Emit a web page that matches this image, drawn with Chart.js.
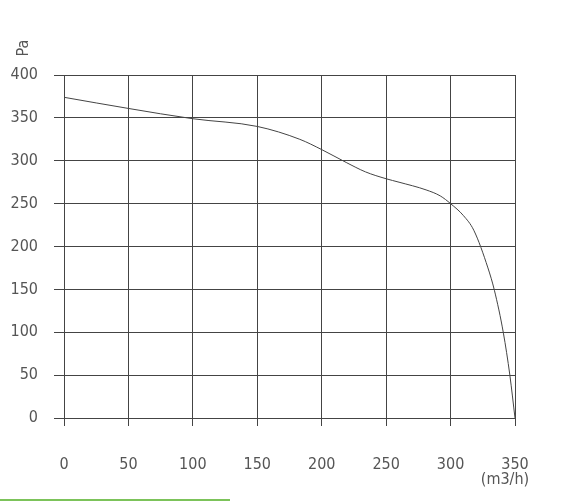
<!DOCTYPE html>
<html>
<head>
<meta charset="utf-8">
<script src="https://cdn.jsdelivr.net/npm/chart.js@4/dist/chart.umd.min.js"></script>
<style>
  html, body { margin: 0; padding: 0; background: #fff; }
  #wrap { position: relative; width: 573px; height: 502px; }
  #greenline { position: absolute; left: 0; top: 499px; width: 230px; height: 2px; background: #7cc35a; }
</style>
</head>
<body>
<div id="wrap">
  <canvas id="c" width="573" height="502"></canvas>
  <div id="greenline"></div>
</div>
<script>
const flowValues     = [0, 50, 100, 150, 183, 200, 219, 234, 250, 260, 281, 292, 300, 310, 318, 329, 334, 341, 346, 350];
const pressureValues = [374, 361, 349, 340, 325, 313, 298, 287, 279, 275, 266, 259, 250, 236, 219, 175, 149, 99, 50, 0];
const xTicks = [0, 50, 100, 150, 200, 250, 300, 350];
const yTicks = [0, 50, 100, 150, 200, 250, 300, 350, 400];
const yUnit = 'Pa';
const xUnit = '(m3/h)';

const FONT = '"DejaVu Sans Condensed", "Liberation Sans Narrow", "DejaVu Sans", sans-serif';
const tickFont = { family: FONT, size: 16, weight: 'normal condensed' };
const points = flowValues.map((x, i) => ({ x: x, y: pressureValues[i] }));

const unitPlugin = {
  id: 'units',
  afterDraw(chart) {
    const ctx = chart.ctx;
    const xs = chart.scales.x, ys = chart.scales.y;
    ctx.save();
    ctx.fillStyle = '#555';
    ctx.font = 'normal condensed 16px ' + FONT;
    ctx.textAlign = 'center';
    ctx.textBaseline = 'top';
    ctx.fillText(xUnit, xs.getPixelForValue(350) - 10, ys.bottom + 54);
    ctx.translate(24, ys.top - 27);
    ctx.rotate(-Math.PI / 2);
    ctx.textAlign = 'center';
    ctx.textBaseline = 'middle';
    ctx.fillText(yUnit, 0, 0);
    ctx.restore();
  }
};

new Chart(document.getElementById('c'), {
  type: 'scatter',
  data: {
    datasets: [{
      data: points,
      showLine: true,
      borderColor: '#444',
      borderWidth: 1,
      pointRadius: 0,
      cubicInterpolationMode: 'monotone',
      fill: false
    }]
  },
  options: {
    responsive: false,
    animation: false,
    layout: { padding: { top: 75, right: 58, left: 0, bottom: 0 } },
    plugins: { legend: { display: false }, tooltip: { enabled: false } },
    scales: {
      x: {
        type: 'linear',
        min: 0, max: 350,
        afterBuildTicks(s) { s.ticks = xTicks.map(v => ({ value: v })); },
        afterFit(s) { s.height = 84; },
        grid: { color: '#444', lineWidth: 1, tickLength: 8, drawTicks: true },
        border: { color: '#444', width: 1 },
        ticks: { color: '#555', font: tickFont, padding: 29, maxRotation: 0 }
      },
      y: {
        type: 'linear',
        min: 0, max: 400,
        afterBuildTicks(s) { s.ticks = yTicks.map(v => ({ value: v })); },
        afterFit(s) { s.width = 64; },
        grid: { color: '#444', lineWidth: 1, tickLength: 10, drawTicks: true },
        border: { color: '#444', width: 1 },
        ticks: { color: '#555', font: tickFont, padding: 16 }
      }
    }
  },
  plugins: [unitPlugin]
});
</script>
</body>
</html>
